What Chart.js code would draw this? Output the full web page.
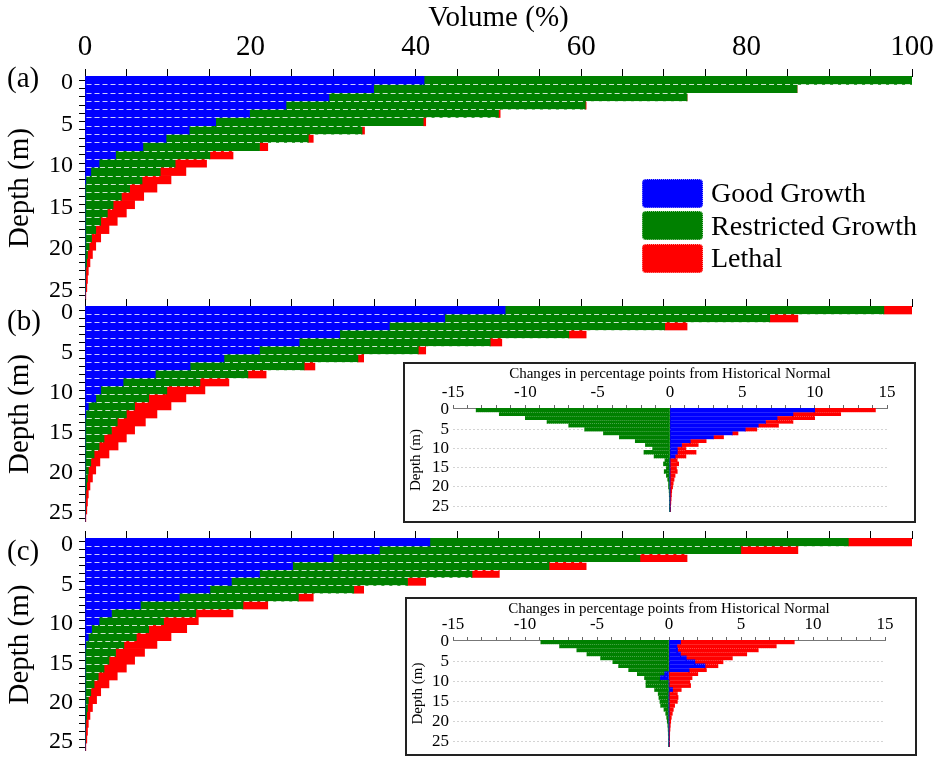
<!DOCTYPE html>
<html><head><meta charset="utf-8">
<script src="https://cdn.jsdelivr.net/npm/chart.js@4"></script>
<style>
body{margin:0;background:#fff;width:940px;height:758px;overflow:hidden;position:relative;font-family:"Liberation Serif","Times New Roman",serif;}
canvas{position:absolute;}
.inset{position:absolute;border:2px solid #222;background:#fff;box-sizing:border-box;}
.inset canvas{position:absolute;left:0;top:0;}
.plabel{position:absolute;font-size:29px;line-height:1;color:#000;}
#legend{position:absolute;left:642px;top:177px;}
.li{display:flex;align-items:center;height:32.5px;}
.sw{width:61px;height:29px;border-radius:4px;box-sizing:border-box;margin-right:8px;border:1px dotted rgba(255,255,255,0.55);}
.lt{font-size:28px;color:#000;white-space:nowrap;}
</style></head><body>
<canvas id="cA" width="940" height="300" style="left:0;top:0"></canvas>
<canvas id="cB" width="940" height="224" style="left:0;top:298px"></canvas>
<canvas id="cC" width="940" height="221" style="left:0;top:530px"></canvas>
<div class="inset" style="left:403px;top:362px;width:513px;height:161px"><canvas id="iB" width="509" height="157"></canvas></div>
<div class="inset" style="left:405px;top:597px;width:512px;height:159px"><canvas id="iC" width="508" height="155"></canvas></div>
<div class="plabel" style="left:7px;top:63px">(a)</div>
<div class="plabel" style="left:7px;top:306px">(b)</div>
<div class="plabel" style="left:7px;top:536px">(c)</div>
<div id="legend"></div>
<script>
// ---- data ----
const depthLabels = ['0','1','2','3','4','5','6','7','8','9','10','11','12','13','14','15','16','17','18','19','20','21','22','23','24','25','26'];
const seriesNames = ['Good Growth','Restricted Growth','Lethal'];
const seriesColors = ['#0000FF','#008000','#FF0000'];
const volumeTicks = [0,20,40,60,80,100];
const changeTicks = [-15,-10,-5,0,5,10,15];

// (a) historical normal, volume %
const goodA       = [41.0,34.9,29.5,24.3,19.9,15.8,12.6,9.8,7.0,3.7,1.7,0.7,0.1,0,0,0,0,0,0,0,0,0,0,0,0,0,0];
const restrictedA = [59.0,51.2,43.3,36.2,30.1,25.1,20.9,17.2,14.1,11.4,9.2,8.4,6.8,5.4,4.4,3.4,2.7,1.9,1.3,0.8,0.5,0.3,0.2,0.1,0.05,0.02,0];
const lethalA     = [0,0,0,0.1,0.2,0.3,0.3,0.6,1.0,2.8,3.8,3.1,3.5,3.3,2.7,2.6,2.3,2.0,1.6,1.1,0.8,0.6,0.4,0.3,0.25,0.2,0.1];

// (b)
const goodB       = [50.8,43.5,36.8,30.8,25.9,21.1,16.8,12.7,8.5,4.6,1.9,1.3,0.4,0.1,0,0,0,0,0,0,0,0,0,0,0,0,0];
const restrictedB = [45.8,39.3,33.3,27.7,23.1,19.2,16.2,13.8,11.2,9.3,8.0,6.4,5.6,4.9,3.9,3.2,2.3,1.7,1.1,0.7,0.4,0.3,0.2,0.1,0.05,0.02,0];
const lethalB     = [3.4,3.4,2.7,2.1,1.4,0.9,0.7,1.3,2.2,3.5,4.6,4.5,4.4,3.7,3.4,2.8,2.7,2.3,1.8,1.1,0.9,0.6,0.4,0.3,0.25,0.2,0.1];

// (c)
const goodC       = [41.7,35.6,30.0,25.1,21.1,17.7,15.1,11.4,6.7,3.2,1.7,0.8,0.4,0.1,0,0,0,0,0,0,0,0,0,0,0,0,0];
const restrictedC = [50.6,43.7,37.1,31.0,25.7,21.3,17.4,14.4,12.4,10.2,7.8,6.9,5.8,4.6,3.7,2.9,2.3,1.6,1.1,0.7,0.4,0.3,0.2,0.1,0.05,0.02,0];
const lethalC     = [7.7,6.9,5.7,4.5,3.3,2.2,1.2,1.8,3.0,4.5,4.2,4.6,4.2,4.0,3.5,3.1,2.7,2.3,1.8,1.2,1.0,0.6,0.4,0.3,0.25,0.2,0.1];

// inset (b): change in percentage points from historical normal
const goodChgB       = [10.0,8.5,7.4,6.6,6.1,5.2,4.3,3.0,1.4,0.8,0.5,0.5,0.35,0,0,0,0,0,0,0,0,0,0,0,0,0,0];
const restrictedChgB = [-13.4,-11.8,-10.0,-8.5,-7.0,-5.9,-4.6,-3.5,-2.4,-1.7,-1.2,-1.8,-1.1,-0.35,-0.45,-0.25,-0.4,-0.25,-0.16,-0.1,-0.1,-0.06,-0.05,-0.04,-0.03,-0.02,-0.01];
const lethalChgB     = [4.2,3.3,2.6,1.9,1.4,0.8,0.4,0.7,1.1,1.15,0.6,1.3,0.75,0.5,0.6,0.45,0.5,0.35,0.28,0.22,0.18,0.12,0.1,0.08,0.06,0.04,0.03];

// inset (c)
const goodChgC       = [0.8,0.55,0.6,0.8,1.2,1.8,2.5,1.4,-0.3,-0.6,0,0,0.25,0,0,0,0,0,0,0,0,0,0,0,0,0,0];
const restrictedChgC = [-8.9,-7.6,-6.4,-5.7,-4.75,-3.9,-3.5,-2.8,-1.9,-1.1,-1.6,-1.6,-1.0,-0.75,-0.7,-0.63,-0.58,-0.35,-0.23,-0.16,-0.12,-0.08,-0.06,-0.05,-0.04,-0.03,-0.02];
const lethalChgC     = [7.9,6.9,5.6,4.6,3.2,1.95,0.9,1.2,2.0,1.6,1.45,1.5,0.6,0.58,0.63,0.58,0.39,0.3,0.23,0.16,0.12,0.09,0.07,0.05,0.04,0.03,0.02];

// ---- rendering ----
const SERIF = '"Liberation Serif","Times New Roman",serif';

const rowLines = {
  id: 'rowLines',
  afterDatasetsDraw(chart, args, opts) {
    const ctx = chart.ctx;
    ctx.save();
    ctx.strokeStyle = opts.color || 'rgba(255,255,255,0.85)';
    ctx.lineWidth = 1;
    ctx.setLineDash(opts.dash || [5,3]);
    chart.data.datasets.forEach((ds, i) => {
      if ((opts.skip || []).includes(i)) return;
      const meta = chart.getDatasetMeta(i);
      const n = meta.data.length;
      meta.data.forEach((bar, j) => {
        if (j === n - 1) return;
        const p = bar.getProps(['x','y','base','height'], true);
        if (Math.abs(p.x - p.base) < 2) return;
        const yy = Math.round(p.y + p.height / 2) + 0.5;
        ctx.beginPath();
        ctx.moveTo(Math.min(p.x, p.base) + 1, yy);
        ctx.lineTo(Math.max(p.x, p.base) - 1, yy);
        ctx.stroke();
      });
    });
    ctx.restore();
  }
};

function fixY(w) {
  return s => { s.width = w; s.paddingTop = 0; s.paddingBottom = 0; };
}
function fixX(h) {
  return s => { s.height = h; s.paddingLeft = 0; s.paddingRight = 0; };
}

function mainChart(id, good, restricted, lethal, showTop, xH) {
  return new Chart(document.getElementById(id), {
    type: 'bar',
    data: {
      labels: depthLabels,
      datasets: [
        {label: seriesNames[0], data: good, backgroundColor: seriesColors[0]},
        {label: seriesNames[1], data: restricted, backgroundColor: seriesColors[1]},
        {label: seriesNames[2], data: lethal, backgroundColor: seriesColors[2]}
      ]
    },
    options: {
      indexAxis: 'y', responsive: false, animation: false,
      layout: {padding: {left: 0, right: 28, top: 0, bottom: 0}},
      datasets: {bar: {barPercentage: 1, categoryPercentage: 1, borderWidth: 0}},
      plugins: {legend: {display: false}, tooltip: {enabled: false},
        rowLines: {color: 'rgba(255,255,255,0.8)', dash: [5,3], skip: [2]}},
      scales: {
        x: {
          position: 'top', stacked: true, min: 0, max: 100,
          afterFit: fixX(xH),
          ticks: {display: showTop, stepSize: 5, autoSkip: false, maxRotation: 0, color: '#000', padding: 4,
            font: {family: SERIF, size: 29},
            callback: v => volumeTicks.includes(v) ? String(v) : ''},
          grid: {drawOnChartArea: false, drawTicks: true, tickLength: 7, tickColor: '#000', tickWidth: 1},
          border: {display: true, color: '#000', width: 1},
          title: {display: showTop, text: 'Volume (%)', color: '#000', padding: {top: 1, bottom: 0},
            font: {family: SERIF, size: 29, lineHeight: 1.2}}
        },
        y: {
          stacked: true,
          afterFit: fixY(85),
          ticks: {autoSkip: false, color: '#000', padding: 6, labelOffset: 3, font: {family: SERIF, size: 24},
            callback: function(v, i) { return i % 5 === 0 ? this.getLabelForValue(v) : ''; }},
          grid: {drawOnChartArea: false, offset: false, tickLength: 6, tickColor: '#000'},
          border: {display: true, color: '#000', width: 1},
          title: {display: true, text: 'Depth (m)', color: '#000', padding: {top: 3, bottom: 0},
            font: {family: SERIF, size: 29, lineHeight: 1.2}}
        }
      }
    },
    plugins: [rowLines]
  });
}

function insetChart(id, good, restricted, lethal, pad, yW, xH) {
  return new Chart(document.getElementById(id), {
    type: 'bar',
    data: {
      labels: depthLabels,
      datasets: [
        {label: seriesNames[0], data: good, backgroundColor: seriesColors[0]},
        {label: seriesNames[1], data: restricted, backgroundColor: seriesColors[1]},
        {label: seriesNames[2], data: lethal, backgroundColor: seriesColors[2]}
      ]
    },
    options: {
      indexAxis: 'y', responsive: false, animation: false,
      layout: {padding: pad},
      datasets: {bar: {barPercentage: 1, categoryPercentage: 1, borderWidth: 0}},
      plugins: {legend: {display: false}, tooltip: {enabled: false},
        rowLines: {color: 'rgba(255,255,255,0.3)', dash: [1,1], skip: []}},
      scales: {
        x: {
          position: 'top', stacked: true, min: -15, max: 15,
          afterFit: fixX(xH),
          ticks: {stepSize: 1, autoSkip: false, maxRotation: 0, color: '#000', padding: 2,
            font: {family: SERIF, size: 17},
            callback: v => changeTicks.includes(v) ? String(v) : ''},
          grid: {drawOnChartArea: true, drawTicks: true, tickLength: 3, tickColor: '#666',
            color: c => (c.tick && c.tick.value === 0) ? '#333' : 'rgba(0,0,0,0)'},
          border: {display: true, color: '#777', width: 1},
          title: {display: true, text: 'Changes in percentage points from Historical Normal', color: '#000',
            padding: {top: 1, bottom: 0}, font: {family: SERIF, size: 15, lineHeight: 1.2}}
        },
        y: {
          stacked: true,
          afterFit: fixY(yW),
          ticks: {autoSkip: false, color: '#000', padding: 4, font: {family: SERIF, size: 17},
            callback: function(v, i) { return i % 5 === 0 ? this.getLabelForValue(v) : ''; }},
          grid: {drawOnChartArea: true, drawTicks: false, offset: false,
            color: c => (c.index % 5 === 0 && c.index > 0) ? '#d4d4d4' : 'rgba(0,0,0,0)'},
          border: {display: false, dash: [2,2]},
          title: {display: true, text: 'Depth (m)', color: '#000', padding: {top: 2, bottom: 0},
            font: {family: SERIF, size: 15, lineHeight: 1.2}}
        }
      }
    },
    plugins: [rowLines]
  });
}

const chartA = mainChart('cA', goodA, restrictedA, lethalA, true, 76);
mainChart('cB', goodB, restrictedB, lethalB, false, 8);
mainChart('cC', goodC, restrictedC, lethalC, false, 8);
insetChart('iB', goodChgB, restrictedChgB, lethalChgB, {left: 0, right: 27, top: 0, bottom: 9}, 48, 44);
insetChart('iC', goodChgC, restrictedChgC, lethalChgC, {left: 0, right: 30, top: 0, bottom: 7}, 46, 41);

// legend built from chart A's datasets
const legendEl = document.getElementById('legend');
chartA.data.datasets.forEach(ds => {
  const row = document.createElement('div'); row.className = 'li';
  const sw = document.createElement('div'); sw.className = 'sw'; sw.style.background = ds.backgroundColor;
  const tx = document.createElement('span'); tx.className = 'lt'; tx.textContent = ds.label;
  row.appendChild(sw); row.appendChild(tx); legendEl.appendChild(row);
});
</script>
</body></html>
